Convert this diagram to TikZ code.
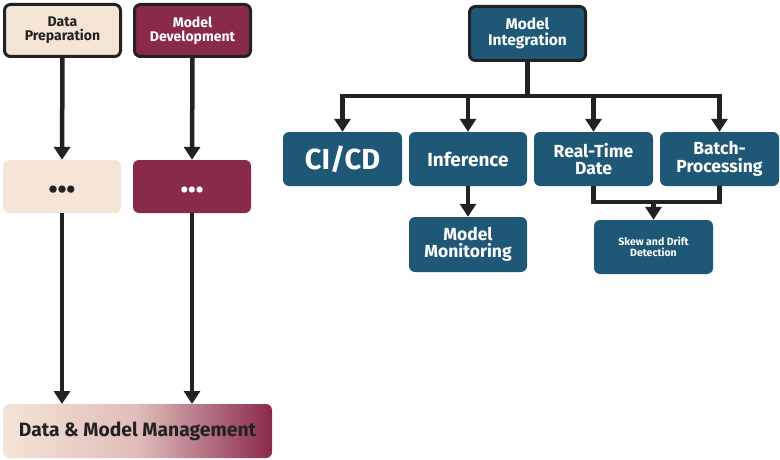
\documentclass[tikz,border=0pt]{standalone}
\usepackage{fontspec}
\setmainfont{Fira Sans}
\usetikzlibrary{arrows.meta}
\definecolor{mteal}{HTML}{1E5876}
\definecolor{maroon}{HTML}{8A2A4B}
\definecolor{cream}{HTML}{F5E5D6}
\definecolor{ink}{HTML}{222222}
\tikzset{
  box/.style={rectangle, rounded corners=6pt, inner sep=0pt, align=center, font=\bfseries},
  framed/.style={draw=ink, line width=3pt},
  tealbox/.style={box, fill=mteal, text=white},
  conn/.style={draw=ink, line width=4.5pt},
  arr/.style={conn, -{Triangle[width=16pt,length=13pt]}},
}
\begin{document}
\begin{tikzpicture}[x=1pt,y=-1pt]
\useasboundingbox (0,0) rectangle (780,460);
% left column
\node[box, framed, fill=cream, text=ink, minimum width=116pt, minimum height=52pt,
  font=\bfseries\fontsize{14}{14}\selectfont] (dp) at (62.5,30.5) {Data\\Preparation};
\node[box, framed, fill=maroon, text=white, minimum width=116pt, minimum height=52pt,
  font=\bfseries\fontsize{14}{14}\selectfont] (md) at (192.5,30.5) {Model\\Development};
\node[box, fill=cream, text=ink, minimum width=118pt, minimum height=53pt,
  font=\bfseries\fontsize{26}{26}\selectfont] (d1) at (62,186.5) {\smash{\raisebox{-12pt}{•••}}};
\node[box, fill=maroon, text=white, minimum width=118pt, minimum height=53pt,
  font=\bfseries\fontsize{22}{22}\selectfont] (d2) at (192,186.5) {\smash{\raisebox{-11pt}{•••}}};
\shade[rounded corners=6pt, left color=cream, right color=maroon, middle color={rgb,255:red,224;green,188;blue,186}]
  (3,404) rectangle (272,458);
\node[font=\bfseries\fontsize{19.3}{20}\selectfont, text=ink, inner sep=0pt] (mgmt) at (137.5,431) {Data \& Model Management};
\coordinate (mgmtn1) at (62,404);
\coordinate (mgmtn2) at (192,404);
\draw[arr] (dp.south) -- (d1.north);
\draw[arr] (md.south) -- (d2.north);
\draw[arr] (d1.south) -- (mgmtn1);
\draw[arr] (d2.south) -- (mgmtn2);
% right side
\node[tealbox, framed, minimum width=116pt, minimum height=54pt,
  font=\bfseries\fontsize{15.5}{15.5}\selectfont] (mi) at (527.5,33.5) {Model\\Integration};
\node[tealbox, minimum width=119pt, minimum height=54pt,
  font=\bfseries\fontsize{29}{30}\selectfont] (cicd) at (342.5,159) {CI/CD};
\node[tealbox, minimum width=118pt, minimum height=54pt,
  font=\bfseries\fontsize{19}{20}\selectfont] (inf) at (468,159) {Inference};
\node[tealbox, minimum width=119pt, minimum height=54pt,
  font=\bfseries\fontsize{17.5}{17.5}\selectfont] (rtd) at (593.5,159) {Real-Time\\Date};
\node[tealbox, minimum width=119pt, minimum height=54pt,
  font=\bfseries\fontsize{17.5}{17.5}\selectfont] (bp) at (719.5,159) {Batch-\\Processing};
\node[tealbox, minimum width=118pt, minimum height=55pt,
  font=\bfseries\fontsize{17.5}{17.5}\selectfont] (mm) at (468,244.5) {Model\\Monitoring};
\node[tealbox, minimum width=119pt, minimum height=54pt,
  font=\bfseries\fontsize{10.5}{10.5}\selectfont] (sk) at (653.5,247) {Skew and Drift\\Detection};
\coordinate (bar) at (527.5,96);
\draw[conn] (mi.south) -- (bar);
\draw[conn, line cap=rect] (cicd.north |- bar) -- (bp.north |- bar);
\draw[arr] (cicd.north |- bar) -- (cicd.north);
\draw[arr] (inf.north |- bar) -- (inf.north);
\draw[arr] (rtd.north |- bar) -- (rtd.north);
\draw[arr] (bp.north |- bar) -- (bp.north);
\draw[arr] (inf.south) -- (mm.north);
\coordinate (low) at (593.5,202);
\draw[conn, line join=miter] (rtd.south) -- (low) -| (bp.south);
\draw[arr] (sk.north |- low) -- (sk.north);
\end{tikzpicture}
\end{document}
